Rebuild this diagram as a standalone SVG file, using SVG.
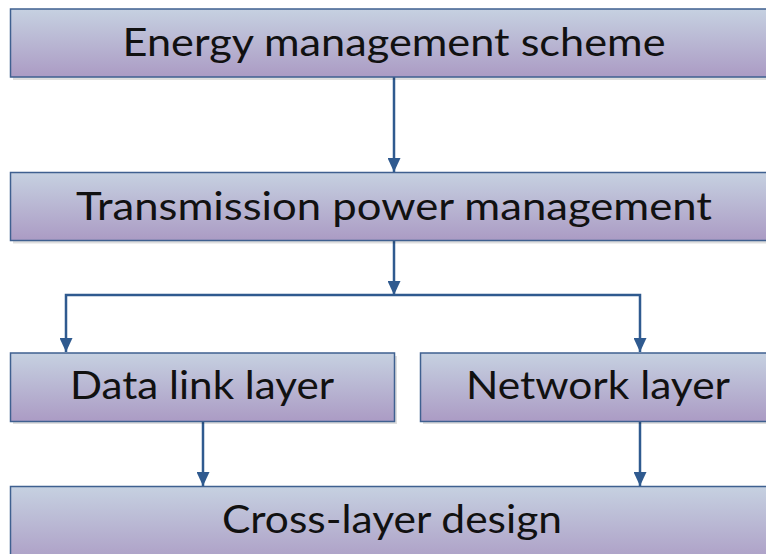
<svg xmlns="http://www.w3.org/2000/svg" width="766" height="554" viewBox="0 0 766 554">
  <defs>
    <linearGradient id="boxFill" x1="0" y1="0" x2="0" y2="1">
      <stop offset="0" stop-color="#c6d1e1"/>
      <stop offset="1" stop-color="#ab9bc4"/>
    </linearGradient>
    <marker id="arrowHead" viewBox="0 0 14 13" refX="14" refY="6.5" markerWidth="14" markerHeight="13" markerUnits="userSpaceOnUse" orient="auto">
      <path d="M0,0 L14,6.5 L0,13 Z" fill="#2f5a8f"/>
    </marker>
  </defs>
  <style>
    .shadow { fill: #000; opacity: 0.13; }
    .box { fill: url(#boxFill); stroke: #3f6090; stroke-width: 1.5; }
    .label { font-family: "Lato", "Liberation Sans", sans-serif; font-size: 39px; fill: #111; text-anchor: middle; }
    .arrow { fill: none; stroke: #2f5a8f; stroke-width: 2.5; marker-end: url(#arrowHead); }
  </style>
  <rect width="766" height="554" fill="#ffffff"/>

  <g id="connectors">
    <line class="arrow" x1="394" y1="77" x2="394" y2="172"/>
    <line class="arrow" x1="394" y1="240" x2="394" y2="295"/>
    <polyline class="arrow" points="394,295 66,295 66,352"/>
    <polyline class="arrow" points="394,295 640,295 640,352"/>
    <line class="arrow" x1="203" y1="422" x2="203" y2="486"/>
    <line class="arrow" x1="640" y1="422" x2="640" y2="486"/>
  </g>

  <g id="energy-management-scheme">
    <rect class="shadow" x="13" y="12" width="770" height="68"/>
    <rect class="box" x="10.5" y="9" width="770" height="68"/>
    <text class="label" x="394" y="56" textLength="543" lengthAdjust="spacingAndGlyphs">Energy management scheme</text>
  </g>

  <g id="transmission-power-management">
    <rect class="shadow" x="13" y="175.5" width="770" height="68"/>
    <rect class="box" x="10.5" y="172.5" width="770" height="68"/>
    <text class="label" x="394" y="219.5" textLength="636" lengthAdjust="spacingAndGlyphs">Transmission power management</text>
  </g>

  <g id="data-link-layer">
    <rect class="shadow" x="13" y="356" width="384" height="68"/>
    <rect class="box" x="10.5" y="353" width="384" height="68.5"/>
    <text class="label" x="202" y="398.5" textLength="264" lengthAdjust="spacingAndGlyphs">Data link layer</text>
  </g>

  <g id="network-layer">
    <rect class="shadow" x="423" y="356" width="360" height="68"/>
    <rect class="box" x="420.5" y="353" width="360" height="68.5"/>
    <text class="label" x="598" y="398.5" textLength="264" lengthAdjust="spacingAndGlyphs">Network layer</text>
  </g>

  <g id="cross-layer-design">
    <rect class="shadow" x="13" y="489.5" width="770" height="80"/>
    <rect class="box" x="10.5" y="486.5" width="770" height="80"/>
    <text class="label" x="392" y="533" textLength="340" lengthAdjust="spacingAndGlyphs">Cross-layer design</text>
  </g>
</svg>
